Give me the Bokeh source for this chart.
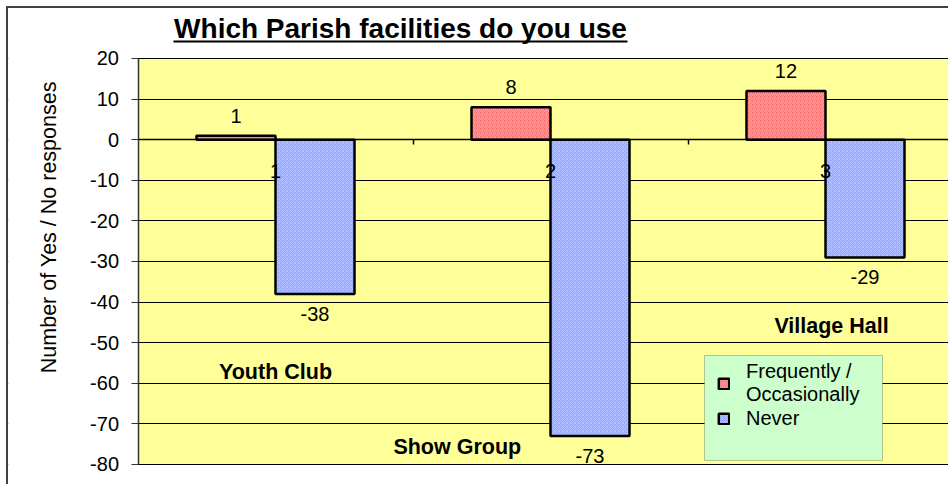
import numpy as np
from bokeh.plotting import figure
from bokeh.models import (ColumnDataSource, Range1d, FixedTicker, Label,
                          BoxAnnotation, Legend, LegendItem, LinearAxis)
from bokeh.transform import dodge
from bokeh.core.properties import value
from bokeh.embed import file_html
from bokeh.resources import INLINE

# ---- data ----
categories = ["1", "2", "3"]
frequently = [1, 8, 12]
never = [-38, -73, -29]
facility_names = ["Youth Club", "Show Group", "Village Hall"]
series_names = ["Frequently /\nOccasionally", "Never"]
y_ticks = [-80, -70, -60, -50, -40, -30, -20, -10, 0, 10, 20]
y_tick_labels = ["-80", "-70", "-60", "-50", "-40", "-30", "-20", "-10", "0", "10", "20"]
title_text = "Which Parish facilities do you use"
y_label_text = "Number of Yes / No responses"

# ---- layout constants ----
FONT = "Liberation Sans"
BAR_W = 0.2873
OFF = BAR_W / 2
X0, X1 = 0.029091, 3.454545       # visible x extent (frame covers the whole canvas)
Y0, Y1 = -85.419, 32.315          # visible y extent
PLOT_LEFT = 0.5                   # left edge of the plot area
name_x = [1.0, 1.661, 3.022]
name_y = [-57.2, -75.6, -46.0]

xs = list(range(1, len(categories) + 1))
src = ColumnDataSource(dict(
    x=xs,
    freq=frequently,
    never=never,
    freq_lbl=[str(v) for v in frequently],
    never_lbl=[str(v) for v in never],
    freq_off=[-20 if v >= 0 else 20 for v in frequently],
    never_off=[-20 if v >= 0 else 20 for v in never],
))
name_src = ColumnDataSource(dict(x=name_x, y=name_y, text=facility_names))

p = figure(width=942, height=478, output_backend="svg", toolbar_location=None,
           x_range=Range1d(X0, X1), y_range=Range1d(Y0, Y1),
           min_border_left=0, min_border_right=0, min_border_top=0,
           min_border_bottom=0, background_fill_color="white",
           border_fill_color="white", outline_line_color=None,
           x_axis_location=None)
p.styles = {"margin-left": "6px", "margin-top": "6px",
            "border-left": "2px solid #404040", "border-top": "2px solid #404040"}

# yellow plot area (drawn beneath the grid)
p.add_layout(BoxAnnotation(left=PLOT_LEFT, top=y_ticks[-1], bottom=y_ticks[0],
                           fill_color="#FFFF99", fill_alpha=1,
                           line_color="#808080", line_width=1, level="image"))

# grid
p.xgrid.visible = False
p.ygrid.ticker = FixedTicker(ticks=y_ticks)
p.ygrid.grid_line_color = "black"
p.ygrid.grid_line_width = 1
# hide grid lines left of the plot area
p.add_layout(BoxAnnotation(right=PLOT_LEFT, fill_color="white", fill_alpha=1,
                           line_color=None, level="underlay"))

# y axis
yax = p.yaxis[0]
yax.fixed_location = PLOT_LEFT
yax.bounds = (y_ticks[0], y_ticks[-1])
yax.ticker = FixedTicker(ticks=y_ticks)
yax.major_label_overrides = {t: l for t, l in zip(y_ticks, y_tick_labels)}
yax.minor_tick_line_color = None
yax.major_tick_in = 0
yax.major_tick_out = 7
yax.axis_line_color = "#333333"
yax.axis_line_width = 1.5
yax.major_tick_line_color = "#333333"
yax.major_label_standoff = 12
yax.major_label_text_font = FONT
yax.major_label_text_font_size = "20px"
yax.major_label_text_color = "black"

# facility names
p.text(x="x", y="y", text="text", source=name_src, text_font=value(FONT),
       text_font_size="21.5px", text_font_style="bold", text_align="center",
       text_baseline="middle", text_color="black")

# bars
r1 = p.vbar(x=dodge("x", -OFF), top="freq", bottom=0, width=BAR_W, source=src,
            fill_color="#FF6B6B", hatch_pattern="/", hatch_color="#FF9C9C",
            hatch_scale=4, hatch_weight=1.2, line_color="black", line_width=2.5)
r2 = p.vbar(x=dodge("x", OFF), top="never", bottom=0, width=BAR_W, source=src,
            fill_color="#99AAFF", hatch_pattern="x", hatch_color="#B9C6FF",
            hatch_scale=4, hatch_weight=1.0, line_color="black", line_width=2.5)

# value labels
p.text(x=dodge("x", -OFF), y="freq", text="freq_lbl", y_offset="freq_off", source=src,
       text_font=value(FONT), text_font_size="20px", text_align="center",
       text_baseline="middle", text_color="black")
p.text(x=dodge("x", OFF), y="never", text="never_lbl", y_offset="never_off", source=src,
       text_font=value(FONT), text_font_size="20px", text_align="center",
       text_baseline="middle", text_color="black")

# category axis at zero
xax = LinearAxis(fixed_location=0, bounds=(PLOT_LEFT, X1),
                 ticker=FixedTicker(ticks=xs, minor_ticks=[x + 0.5 for x in xs[:-1]]),
                 major_label_overrides={x: c for x, c in zip(xs, categories)})
xax.axis_line_color = "black"
xax.axis_line_width = 1.5
xax.major_tick_line_color = None
xax.minor_tick_in = 0
xax.minor_tick_out = 5
xax.minor_tick_line_color = "black"
xax.minor_tick_line_width = 1.5
xax.major_label_standoff = 18
xax.major_label_text_font = FONT
xax.major_label_text_font_size = "20px"
xax.major_label_text_color = "black"
p.add_layout(xax, "below")

# title (underlined)
p.add_layout(Label(x=1.4545, y=27.44, text=title_text, text_align="center",
                   text_baseline="middle", text_font=FONT, text_font_size="28px",
                   text_font_style="bold", text_color="black"))
p.add_layout(BoxAnnotation(left=0.629, right=2.28, bottom=23.94, top=24.44,
                           fill_color="black", fill_alpha=1, line_color=None))

# y axis label
p.add_layout(Label(x=0.17818, y=-21.55, text=y_label_text, angle=np.pi / 2,
                   text_align="center", text_baseline="middle", text_font=FONT,
                   text_font_size="21.5px", text_color="black"))

# legend box
p.add_layout(BoxAnnotation(left=2.56, right=3.2073, top=-53.15, bottom=-79.0,
                           fill_color="#CCFFCC", fill_alpha=1,
                           line_color="#404040", line_width=1))

legend = Legend(items=[LegendItem(label=series_names[0], renderers=[r1]),
                       LegendItem(label=series_names[1], renderers=[r2])],
                location=(709, 56), background_fill_alpha=0,
                border_line_color=None,
                label_text_font=FONT, label_text_font_size="20px",
                label_text_color="black", label_height=24,
                glyph_width=13, glyph_height=13, label_standoff=16,
                padding=0, spacing=0, margin=0)
p.add_layout(legend, "center")

open("out.html", "w").write(file_html(p, INLINE))
